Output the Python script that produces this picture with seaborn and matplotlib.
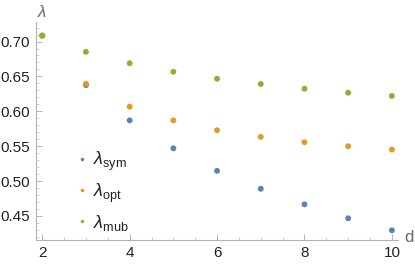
import numpy as np
import pandas as pd
import matplotlib
matplotlib.use("Agg")
import matplotlib.pyplot as plt
import seaborn as sns
from matplotlib.ticker import MultipleLocator

d_values = [2, 3, 4, 5, 6, 7, 8, 9, 10]
lam_sym = [0.7085, 0.6375, 0.587, 0.547, 0.5147, 0.489, 0.4667, 0.4467, 0.4295]
lam_opt = [0.7085, 0.6396, 0.6067, 0.587, 0.5729, 0.5633, 0.5557, 0.550, 0.5452]
lam_mub = [0.7085, 0.6853, 0.669, 0.6567, 0.6467, 0.6391, 0.6324, 0.6267, 0.622]
series_names = [r"$\lambda_{\mathrm{sym}}$", r"$\lambda_{\mathrm{opt}}$", r"$\lambda_{\mathrm{mub}}$"]
colors = ["#5E81B5", "#E19C24", "#8FB032"]

df = pd.DataFrame({
    "d": d_values * 3,
    "lam": lam_sym + lam_opt + lam_mub,
    "series": [series_names[0]] * 9 + [series_names[1]] * 9 + [series_names[2]] * 9,
})

sns.set_style("white")
plt.rcParams["font.family"] = ["Liberation Sans", "DejaVu Sans"]
plt.rcParams["mathtext.fontset"] = "custom"
plt.rcParams["mathtext.rm"] = "Liberation Sans"
plt.rcParams["mathtext.it"] = "Liberation Sans:italic"

fig = plt.figure(figsize=(4.15, 2.64), dpi=100)
ax = fig.add_axes([35.7 / 415, 24 / 264, (398 - 35.7) / 415, (240 - 22) / 264])

sns.scatterplot(data=df, x="d", y="lam", hue="series", hue_order=series_names,
                palette=colors, s=18, linewidth=0, ax=ax, legend=True, zorder=3)

ax.set_xlim(1.85, 10.14)
ax.set_ylim(0.4156, 0.728)
ax.xaxis.set_major_locator(MultipleLocator(2))
ax.xaxis.set_minor_locator(MultipleLocator(0.5))
ax.yaxis.set_major_locator(MultipleLocator(0.05))
ax.yaxis.set_minor_locator(MultipleLocator(0.01))
ax.yaxis.set_major_formatter(matplotlib.ticker.FormatStrFormatter("%.2f"))

for s in ["top", "right"]:
    ax.spines[s].set_visible(False)
for s in ["left", "bottom"]:
    ax.spines[s].set_color("#b3b3b3")
    ax.spines[s].set_linewidth(0.8)

ax.tick_params(which="major", direction="in", length=4, width=0.7, color="#b3b3b3",
               labelsize=11, labelcolor="#222222", pad=4, left=True, bottom=True)
ax.tick_params(which="minor", direction="in", length=2, width=0.6, color="#c8c8c8",
               left=True, bottom=True)
ax.set_xlabel("")
ax.set_ylabel("")
ax.grid(False)

fig.text(37 / 415, 1 - 12 / 264, r"$\lambda$", fontsize=12, color="#666666",
         ha="left", va="center")
fig.text(404 / 415, 1 - 238 / 264, "d", fontsize=12, color="#666666",
         ha="left", va="center")

handles, labels = ax.get_legend_handles_labels()
leg = ax.legend(handles, labels, loc="upper left",
                bbox_to_anchor=((64 - 35.7) / (398 - 35.7), 1 - (141 - 22) / (240 - 22)),
                frameon=False, fontsize=13, markerscale=0.6, labelspacing=0.45,
                handletextpad=0.1, handlelength=1.0, borderpad=0)
for t in leg.get_texts():
    t.set_color("#222222")

fig.savefig("out.png", dpi=100)
